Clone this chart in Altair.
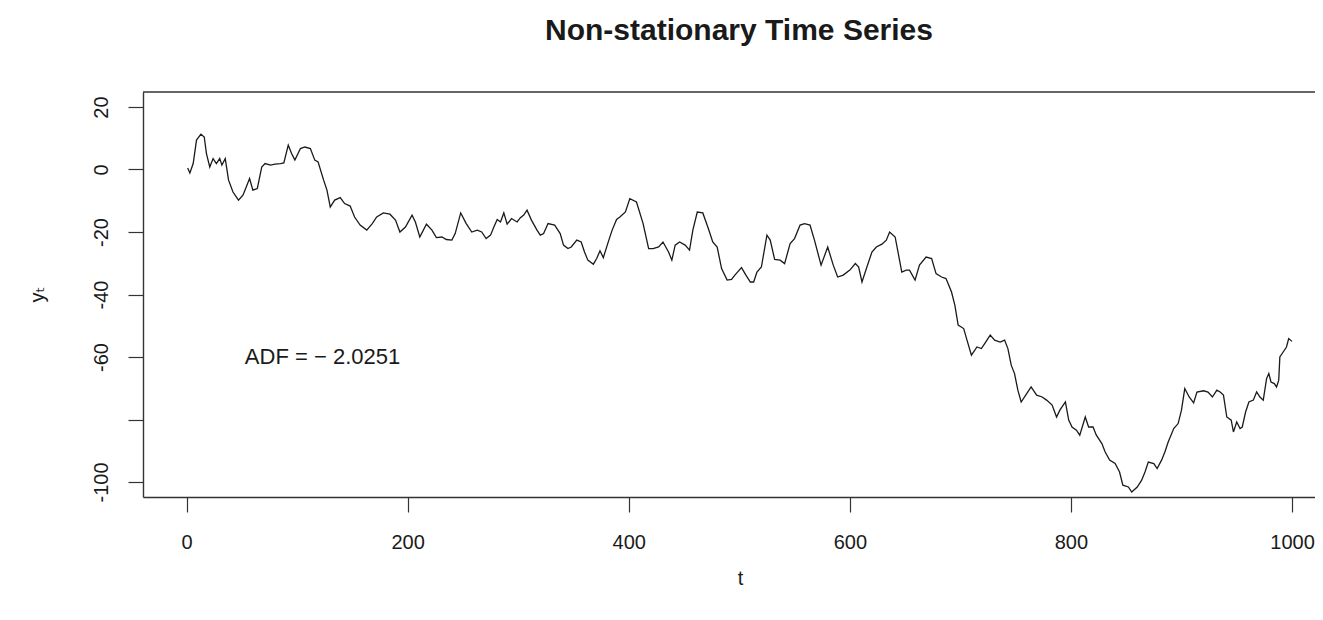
import altair as alt
import pandas as pd

# ---- data ----
T = [
    1, 3, 6, 9, 13, 16, 18, 21, 24, 27,
    30, 32, 35, 38, 42, 47, 51, 54, 57, 60,
    64, 68, 71, 76, 80, 85, 88, 92, 95, 98,
    103, 107, 112, 116, 119, 124, 127, 130, 134, 139,
    143, 148, 152, 157, 163, 168, 172, 178, 184, 189,
    193, 198, 204, 207, 211, 217, 222, 226, 231, 235,
    240, 243, 248, 253, 258, 263, 267, 271, 275, 278,
    281, 284, 287, 290, 294, 299, 302, 305, 308, 312,
    317, 320, 323, 327, 333, 338, 341, 345, 348, 353,
    357, 360, 363, 368, 371, 374, 377, 382, 385, 389,
    392, 397, 401, 407, 413, 418, 422, 427, 431, 436,
    439, 442, 446, 451, 455, 458, 462, 467, 472, 476,
    480, 484, 489, 493, 496, 502, 506, 510, 513, 516,
    520, 525, 528, 532, 537, 541, 546, 550, 555, 559,
    564, 568, 574, 580, 585, 589, 594, 600, 605, 608,
    611, 615, 620, 624, 629, 633, 636, 641, 647, 651,
    654, 659, 663, 669, 674, 678, 683, 687, 692, 695,
    698, 703, 706, 710, 715, 719, 722, 727, 731, 736,
    740, 743, 746, 749, 752, 755, 760, 764, 769, 774,
    778, 783, 787, 790, 795, 798, 801, 805, 808, 813,
    816, 820, 823, 828, 831, 835, 840, 844, 847, 852,
    855, 860, 864, 867, 870, 875, 878, 882, 885, 888,
    893, 897, 900, 903, 907, 911, 914, 920, 924, 928,
    932, 935, 938, 941, 945, 947, 950, 953, 955, 958,
    961, 965, 968, 971, 974, 977, 979, 981, 984, 986,
    988, 989, 992, 995, 997, 1000,
]
Y = [
    0.5, -1.1, 1.9, 9.4, 11.3, 10.4, 5.1, 0.8, 3.5, 1.9,
    3.5, 1.4, 3.5, -3.4, -7.2, -9.8, -8.2, -5.6, -2.9, -6.6,
    -6.1, 0.8, 1.9, 1.4, 1.7, 1.9, 2.1, 7.8, 5.1, 3.0,
    6.7, 7.2, 6.7, 3.0, 2.4, -3.4, -6.6, -12.0, -9.8, -9.0,
    -10.9, -11.7, -15.2, -17.8, -19.4, -17.3, -15.2, -13.9, -14.3, -16.2,
    -20.0, -18.4, -14.6, -16.8, -21.6, -17.5, -19.4, -21.8, -21.6, -22.4,
    -22.6, -20.5, -13.9, -17.3, -20.0, -19.4, -20.0, -22.1, -21.0, -18.4,
    -16.0, -16.8, -13.9, -17.5, -15.7, -16.8, -15.4, -14.6, -13.0, -16.2,
    -19.4, -21.0, -20.5, -17.3, -17.8, -20.5, -24.2, -25.3, -24.8, -22.6,
    -23.2, -26.4, -29.0, -30.3, -28.5, -26.0, -28.2, -22.6, -19.4, -16.0,
    -15.2, -13.6, -9.3, -10.4, -17.3, -25.3, -25.3, -24.8, -23.2, -26.4,
    -29.0, -24.2, -23.2, -24.2, -25.8, -19.4, -13.6, -13.9, -18.9, -23.2,
    -24.8, -31.7, -35.4, -35.2, -33.8, -31.4, -33.8, -36.0, -36.0, -32.8,
    -31.2, -21.0, -22.6, -28.8, -29.0, -30.1, -23.7, -22.1, -17.8, -17.3,
    -17.8, -22.6, -30.6, -24.8, -30.6, -34.4, -33.8, -32.2, -30.1, -31.2,
    -36.0, -31.7, -26.4, -24.8, -23.9, -22.6, -20.0, -21.6, -32.8, -32.2,
    -32.2, -35.4, -30.6, -28.0, -28.5, -33.3, -34.4, -34.9, -39.2, -43.4,
    -49.8, -50.9, -54.6, -59.4, -56.8, -57.3, -55.7, -53.0, -54.6, -55.2,
    -54.6, -57.3, -62.6, -65.3, -70.6, -74.4, -71.7, -69.6, -72.2, -72.8,
    -73.8, -75.4, -79.2, -77.0, -74.4, -80.2, -82.4, -83.4, -85.0, -79.2,
    -82.4, -82.4, -85.0, -87.7, -90.4, -93.0, -94.1, -96.8, -101.0, -101.6,
    -103.2, -101.6, -99.4, -96.8, -93.6, -94.1, -95.7, -93.0, -90.4, -87.2,
    -82.9, -81.3, -77.0, -70.1, -72.8, -74.7, -71.2, -70.8, -71.2, -72.8,
    -70.6, -71.2, -72.2, -79.2, -80.2, -84.0, -80.8, -82.9, -82.4, -77.6,
    -74.4, -73.8, -71.2, -72.8, -73.8, -66.9, -65.3, -68.0, -68.5, -69.6,
    -67.4, -60.0, -58.4, -56.8, -54.1, -55.0,
]
X_TICKS = [0, 200, 400, 600, 800, 1000]
Y_TICKS = [-100, -80, -60, -40, -20, 0, 20]
X_DOMAIN = [-39.4, 1020.8]
Y_DOMAIN = [-104.8, 24.8]
TITLE = "Non-stationary Time Series"
X_TITLE = "t"
Y_TITLE = "y\u209c"
ADF_LABEL = ["ADF  =  \u2212 2.0251"]
ADF_T = [123]
ADF_Y = [-60]

assert len(T) == len(Y)

FONT = "Liberation Sans, Arial, Helvetica, DejaVu Sans, sans-serif"
INK = "#1a1a1a"
W, H = 1172, 405

df = pd.DataFrame({"t": T, "y": Y})
adf_df = pd.DataFrame({"t": ADF_T, "y": ADF_Y, "label": ADF_LABEL})

x_scale = alt.Scale(domain=X_DOMAIN, nice=False, zero=False)
y_scale = alt.Scale(domain=Y_DOMAIN, nice=False, zero=False)

x_axis = alt.Axis(
    values=X_TICKS, title=X_TITLE, grid=False,
    labelExpr="toString(datum.value)",
    tickSize=15, tickColor="#333", tickWidth=1.2,
    domainColor="#333", domainWidth=1.4,
    labelFont=FONT, labelFontSize=20, labelColor=INK, labelPadding=20,
    labelBaseline="top", labelFlush=False, labelOverlap=False,
    titleFont=FONT, titleFontSize=20, titleFontWeight="normal", titleColor=INK,
    titleX=597, titleY=81, titleBaseline="middle", titleAlign="center",
)
y_axis = alt.Axis(
    values=Y_TICKS, title=Y_TITLE, grid=False,
    labelExpr="datum.value == -80 ? '' : toString(datum.value)",
    tickSize=15, tickColor="#333", tickWidth=1.2,
    domainColor="#333", domainWidth=1.4,
    labelFont=FONT, labelFontSize=20, labelColor=INK, labelPadding=21,
    labelAngle=270, labelAlign="center", labelBaseline="alphabetic",
    labelFlush=False, labelOverlap=False,
    titleFont=FONT, titleFontSize=20, titleFontWeight="normal", titleColor=INK,
    titleAngle=270, titleX=-106, titleY=202, titleBaseline="middle", titleAlign="center",
)

line = alt.Chart(df).mark_line(color=INK, strokeWidth=1.3).encode(
    x=alt.X("t:Q", scale=x_scale, axis=x_axis),
    y=alt.Y("y:Q", scale=y_scale, axis=y_axis),
)

top_border = alt.Chart(pd.DataFrame({"k": [0]})).mark_rule(
    color="#333", strokeWidth=1.4
).encode(x=alt.value(0), x2=alt.value(W), y=alt.value(0))

adf = alt.Chart(adf_df).mark_text(
    align="center", baseline="middle", font=FONT, fontSize=22, color=INK
).encode(
    x=alt.X("t:Q", scale=x_scale, axis=x_axis),
    y=alt.Y("y:Q", scale=y_scale, axis=y_axis),
    text="label:N",
)

chart = alt.layer(line, top_border, adf).properties(
    width=W,
    height=H,
    background="white",
    autosize=alt.AutoSizeParams(type="none"),
    padding={"left": 135, "top": 84, "right": 0, "bottom": 100},
    title=alt.TitleParams(
        TITLE, font=FONT, fontSize=30, fontWeight="bold", color=INK,
        anchor="middle", dx=10, offset=45,
    ),
).configure_view(stroke=None)

chart.save("out.html", embed_options={"renderer": "svg", "actions": False})
